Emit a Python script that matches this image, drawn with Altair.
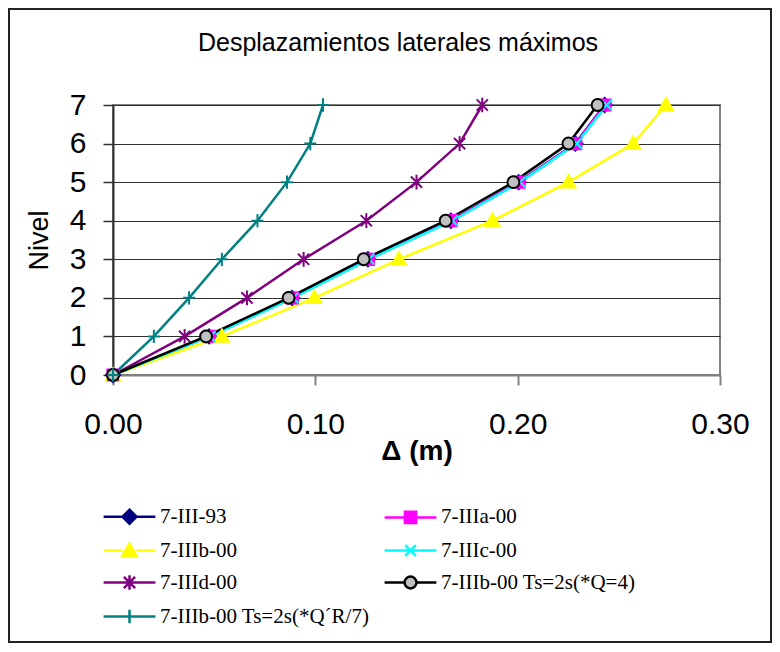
import altair as alt
import pandas as pd

levels = [0, 1, 2, 3, 4, 5, 6, 7]
series_names = [
    "7-III-93",
    "7-IIIa-00",
    "7-IIIb-00",
    "7-IIIc-00",
    "7-IIId-00",
    "7-IIIb-00 Ts=2s(*Q=4)",
    "7-IIIb-00 Ts=2s(*Q\u00b4R/7)",
]
d_III_93 = [0, 0.0475, 0.0885, 0.1260, 0.1670, 0.2005, 0.2285, 0.2430]
d_IIIa_00 = [0, 0.0477, 0.0887, 0.1262, 0.1672, 0.2007, 0.2287, 0.2432]
d_IIIb_00 = [0, 0.0538, 0.0995, 0.1413, 0.1875, 0.2251, 0.2571, 0.2733]
d_IIIc_00 = [0, 0.0480, 0.0890, 0.1265, 0.1678, 0.2012, 0.2292, 0.2440]
d_IIId_00 = [0, 0.0354, 0.0662, 0.0942, 0.1252, 0.1500, 0.1713, 0.1825]
d_Q4 = [0, 0.0460, 0.0868, 0.1239, 0.1644, 0.1979, 0.2251, 0.2395]
d_QR7 = [0, 0.0202, 0.0376, 0.0538, 0.0714, 0.0860, 0.0975, 0.1038]
all_series = [d_III_93, d_IIIa_00, d_IIIb_00, d_IIIc_00, d_IIId_00, d_Q4, d_QR7]

chart_title = ["Desplazamientos laterales m\u00e1ximos"]

line_colors = ["#000080", "#FF00FF", "#FFFF00", "#00FFFF", "#800080", "#000000", "#008080"]
marker_fills = ["#000080", "#FF00FF", "#FFFF00", "transparent", "transparent", "#C0C0C0", "transparent"]

# marker shapes (unit square paths)
m_diamond = "M0,-1L1,0L0,1L-1,0Z"
m_square = "M-0.8,-0.8H0.8V0.8H-0.8Z"
m_triangle = "M0,-1L1,0.75H-1Z"
m_x = "M-0.75,-0.75L0.75,0.75M-0.75,0.75L0.75,-0.75"
m_star = "M-0.8,-0.8L0.8,0.8M-0.8,0.8L0.8,-0.8M0,-1.05V1.05"
m_circle = "M-0.85,0A0.85 0.85 0 1 1 0.85,0A0.85 0.85 0 1 1 -0.85,0Z"
m_plus = "M-0.85,0H0.85M0,-0.95V0.95"
marker_shapes = [m_diamond, m_square, m_triangle, m_x, m_star, m_circle, m_plus]

# legend symbols: line segment + marker
legend_shapes = [
    "M-3.7,0H-1M1,0H3.7" + m_diamond,
    "M-3.7,0H-0.8M0.8,0H3.7" + m_square,
    "M-3.7,0H-1M1,0H3.7" + m_triangle,
    "M-3.7,0H3.7" + m_x,
    "M-3.7,0H3.7" + m_star,
    "M-3.7,0H-0.85M0.85,0H3.7" + m_circle,
    "M-3.7,0H3.7" + m_plus,
]

rows = []
for name, vals in zip(series_names, all_series):
    for lv, v in zip(levels, vals):
        rows.append({"serie": name, "desp": v, "nivel": lv})
df = pd.DataFrame(rows)

x_enc = alt.X(
    "desp:Q",
    scale=alt.Scale(domain=[0, 0.3], nice=False, zero=True),
    axis=alt.Axis(
        values=[0, 0.1, 0.2, 0.3], format=".2f", title="\u0394 (m)", grid=False,
        labelFont="Liberation Sans", labelFontSize=30, labelColor="#000000",
        labelPadding=24, tickSize=10, tickColor="#808080", tickWidth=2,
        domainColor="#808080", domainWidth=2,
        titleFont="Liberation Sans", titleFontSize=28, titleFontWeight="bold",
        titleColor="#000000", titlePadding=-2,
        labelFlush=False, labelOverlap=False,
    ),
)
y_enc = alt.Y(
    "nivel:Q",
    scale=alt.Scale(domain=[0, 7], nice=False),
    axis=alt.Axis(
        values=levels, format="d", title="Nivel", grid=True,
        gridColor="#303030", gridWidth=1,
        labelFont="Liberation Sans", labelFontSize=30, labelColor="#000000",
        labelPadding=17, tickSize=10, tickColor="#303030", tickWidth=1.5,
        domainColor="#303030", domainWidth=2,
        titleFont="Liberation Sans", titleFontSize=27, titleFontWeight="normal",
        titleColor="#000000", titlePadding=16,
        labelFlush=False, labelOverlap=False,
    ),
)

border = alt.Chart(pd.DataFrame({"k": [0]})).mark_rect(
    fill="transparent", stroke="#222222", strokeWidth=2
).encode(
    x=alt.value(-104), x2=alt.value(658), y=alt.value(-96), y2=alt.value(537)
)

title_layer = alt.Chart(pd.DataFrame({"t": chart_title})).mark_text(
    font="Liberation Sans", fontSize=25, color="#000000", align="center", baseline="alphabetic"
).encode(
    text="t:N", x=alt.value(285), y=alt.value(-54)
)

lines = alt.Chart(df).mark_line(strokeWidth=2.5).encode(
    x=x_enc,
    y=y_enc,
    stroke=alt.Stroke("serie:N", scale=alt.Scale(domain=series_names, range=line_colors), legend=None),
    order=alt.Order("nivel:Q"),
)

points = alt.Chart(df).mark_point(size=196, strokeWidth=2, opacity=1).encode(
    x=x_enc,
    y=y_enc,
    stroke=alt.Stroke("serie:N", scale=alt.Scale(domain=series_names, range=line_colors), legend=None),
    fill=alt.Fill("serie:N", scale=alt.Scale(domain=series_names, range=marker_fills), legend=None),
    shape=alt.Shape("serie:N", scale=alt.Scale(domain=series_names, range=marker_shapes), legend=None),
)

leg = alt.Legend(
    orient="none", legendX=6, legendY=401, columns=2, direction="horizontal", title=None,
    labelFont="Liberation Serif", labelFontSize=21, labelColor="#000000",
    symbolSize=196, symbolStrokeWidth=2.5, labelOffset=20,
    rowPadding=9, columnPadding=9, padding=0, labelLimit=400,
    symbolOpacity=1,
)

legend_layer = alt.Chart(df).mark_point(size=196, strokeWidth=2.5, opacity=1).encode(
    stroke=alt.Stroke("serie:N", scale=alt.Scale(domain=series_names, range=line_colors), legend=leg),
    fill=alt.Fill("serie:N", scale=alt.Scale(domain=series_names, range=marker_fills), legend=leg),
    shape=alt.Shape("serie:N", scale=alt.Scale(domain=series_names, range=legend_shapes), legend=leg),
).transform_filter("false")

chart = alt.layer(border, title_layer, lines, points, legend_layer).resolve_scale(
    stroke="independent", fill="independent", shape="independent"
).properties(
    width=607,
    height=270,
    autosize=alt.AutoSizeParams(type="none"),
    padding={"left": 105, "top": 97, "right": 52, "bottom": 269},
    background="#FFFFFF",
).configure_view(stroke="#808080", strokeWidth=2)

chart.save("out.html", embed_options={"renderer": "svg", "actions": False})
